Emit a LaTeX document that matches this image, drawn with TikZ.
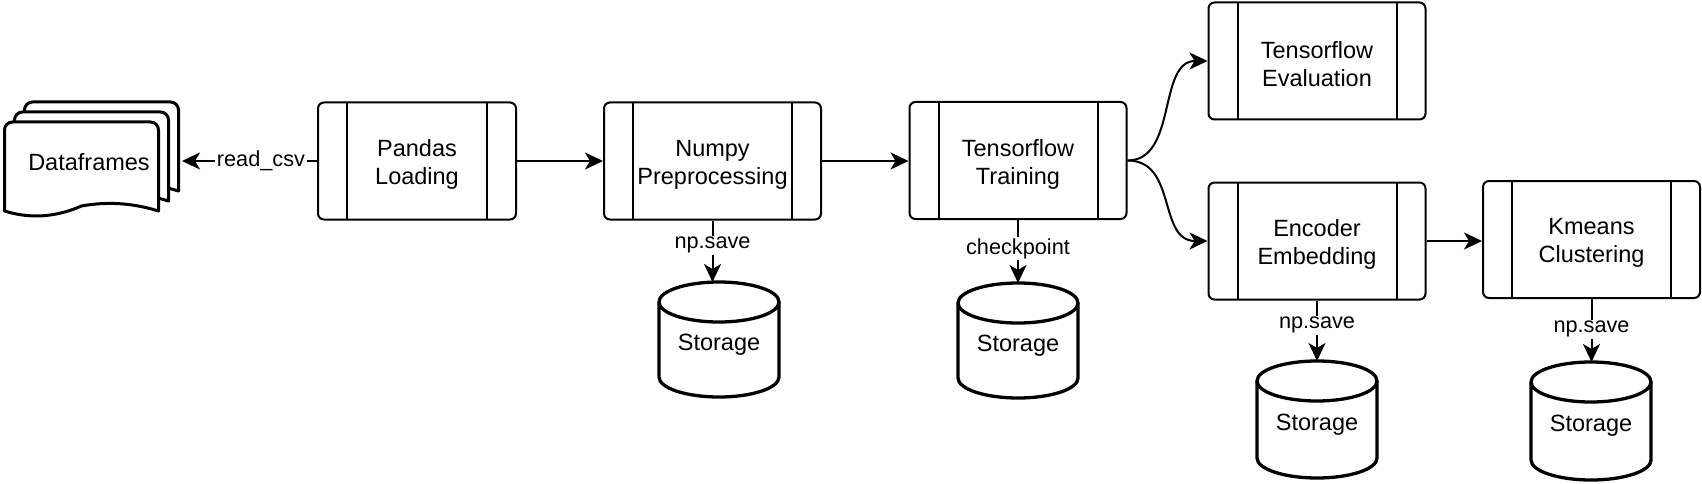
\documentclass[tikz,border=0pt]{standalone}
\usepackage{fontspec}
\setmainfont{Liberation Sans}
\usetikzlibrary{arrows.meta}
\newcommand\mainsz{\fontsize{23.5pt}{28pt}\selectfont}
\newcommand\labsz{\fontsize{21.7pt}{26pt}\selectfont}
\tikzset{
  proc/.style={draw, line width=2pt, rounded corners=6pt, minimum width=217pt, minimum height=117pt,
    inner sep=0pt,
    path picture={\draw[line width=2pt]
      ([xshift=29pt]path picture bounding box.north west) -- ([xshift=29pt]path picture bounding box.south west)
      ([xshift=-29pt]path picture bounding box.north east) -- ([xshift=-29pt]path picture bounding box.south east);}},
  ptext/.style={font=\mainsz, align=center, inner sep=0pt, yshift=-3.5pt},
  txt/.style={font=\mainsz, inner sep=0pt},
  elab/.style={font=\labsz, fill=white, inner sep=1.5pt},
  vlab/.style={elab, yshift=-3pt},
  arr/.style={line width=2pt, -{Stealth[length=18pt, width=17pt, inset=5pt]}},
  cylline/.style={line width=3.3pt, fill=white},
  docline/.style={line width=3pt, fill=white, line join=round}
}
\newcommand\docpage[2]{%
  \draw[docline] (#1,#2+89) [rounded corners=8pt] -- (#1,#2) -- (#1+154,#2) [sharp corners] -- (#1+154,#2+89)
    .. controls (#1+128.3,#2+81) and (#1+102.7,#2+79.3) .. (#1+77,#2+84)
    .. controls (#1+51.3,#2+95.3) and (#1+25.7,#2+97) .. cycle;}
\newcommand\cyl[4]{%
  \draw[cylline] (#2-60,#3+20) -- (#2-60,#4-20)
    .. controls (#2-60,#4-8.95) and (#2-33.1,#4) .. (#2,#4)
    .. controls (#2+33.1,#4) and (#2+60,#4-8.95) .. (#2+60,#4-20) -- (#2+60,#3+20);
  \draw[cylline] (#2,#3+20) ellipse[x radius=60pt, y radius=20pt];
  \node[txt] (#1) at (#2,{(#3+#4)/2+5}) {Storage};
  \coordinate (#1top) at (#2,#3);}
\begin{document}
\begin{tikzpicture}[x=1pt,y=-1pt]
\fill[white] (0,0) rectangle (1702,484);
\useasboundingbox (0,0) rectangle (1702,484);
% Dataframes
\docpage{24.5}{102}
\docpage{14.5}{112}
\docpage{4.5}{122}
\node[txt, anchor=base] (df) at (89,170) {Dataframes};
\coordinate (dfe) at (182,161);
% process boxes
\node[proc, minimum width=198pt, label={[ptext]center:{Pandas\\Loading}}] (pandas) at (417,161) {};
\node[proc, label={[ptext]center:{Numpy\\Preprocessing}}] (numpy) at (712.5,161) {};
\node[proc, label={[ptext]center:{Tensorflow\\Training}}] (train) at (1018,160.5) {};
\node[proc, label={[ptext]center:{Tensorflow\\Evaluation}}] (eval) at (1317,61) {};
\node[proc, label={[ptext]center:{Encoder\\Embedding}}] (enc) at (1317,241) {};
\node[proc, label={[ptext]center:{Kmeans\\Clustering}}] (kmeans) at (1591.5,239.5) {};
% storage
\cyl{s1}{719}{282}{397}
\cyl{s2}{1018}{283}{398}
\cyl{s3}{1317}{361}{478}
\cyl{s4}{1591}{362}{480}
% connectors
\draw[arr] (pandas.west) -- node[elab, pos=0.415]{read\_csv} (dfe);
\draw[arr] (pandas.east) -- (pandas.east -| numpy.west);
\draw[arr] (numpy.east) -- (numpy.east -| train.west);
\draw[arr] (train.east) .. controls +(50,0) and +(-50,0) .. (eval.west);
\draw[arr] (train.east) .. controls +(50,0) and +(-50,0) .. (enc.west);
\draw[arr] (enc.east) -- (enc.east -| kmeans.west);
\draw[arr] (numpy.south) -- node[vlab, pos=0.355]{np.save} (numpy.south |- s1top);
\draw[arr] (train.south) -- node[vlab, pos=0.41]{checkpoint} (train.south |- s2top);
\draw[arr] (enc.south) -- node[vlab, pos=0.36]{np.save} (enc.south |- s3top);
\draw[arr] (kmeans.south) -- node[vlab, pos=0.43]{np.save} (kmeans.south |- s4top);
\end{tikzpicture}
\end{document}
